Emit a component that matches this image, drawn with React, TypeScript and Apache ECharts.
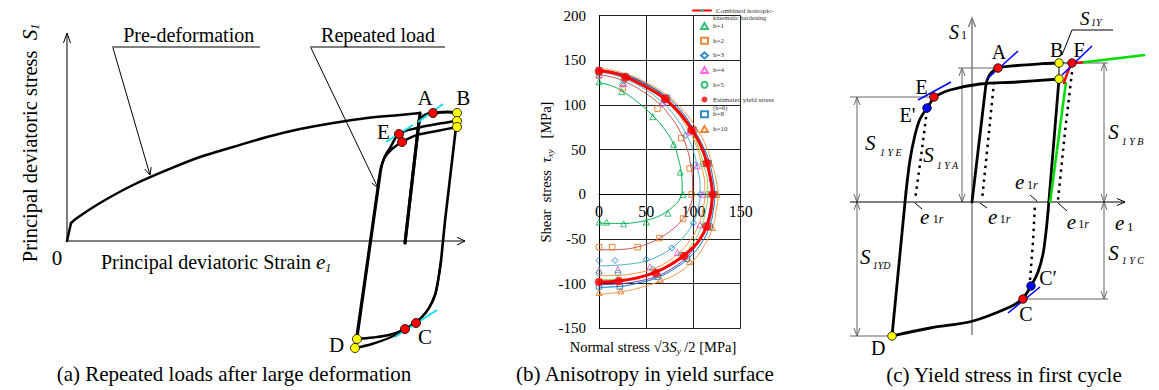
import React, { useEffect, useRef } from 'react';
import * as echarts from 'echarts';

const SERIF = '"Liberation Serif", "Times New Roman", Times, serif';

// ================= Panel (b): yield surfaces (MPa) =================
const bXTicks = [0, 50, 100, 150];
const bYRange = [-150, 200];

const markH1 = [[0,126],[24,115],[57,87],[79,56],[86,25],[89,0],[73,-21],[50,-31],[26,-33],[8,-31],[0,-31]];
const markH2 = [[0,133],[25,119],[62,96],[87,63],[96,29],[98,0],[89,-27],[64,-49],[41,-59],[14,-59],[0,-59]];
const markH3 = [[0,135],[25,123],[67,101],[92,66],[101,33],[107,0],[100,-32],[77,-60],[50,-73],[17,-74],[0,-74]];
const markH4 = [[0,134],[26,124],[68,103],[96,70],[104,32],[110,0],[107,-34],[83,-65],[54,-81],[20,-84],[0,-85]];
const markH5 = [[0,136],[26,127],[70,106],[97,71],[110,34],[115,0],[112,-35],[87,-68],[57,-84],[20,-88],[0,-88]];
const markH6 = [[0,138],[28,131],[70,107],[98,72],[114,35],[120,0],[114,-36],[90,-69],[60,-88],[21,-97],[0,-98]];
const markH8 = [[0,139],[28,132],[72,108],[100,72],[116,35],[122,0],[117,-36],[93,-72],[62,-92],[22,-103],[0,-103]];
const markH10 = [[0,140],[28,133],[72,109],[102,73],[117,35],[125,0],[120,-37],[96,-75],[65,-95],[23,-108],[0,-110]];

const fitH1 = [[0,125],[12,122],[24,116],[40,104],[57,88],[70,72],[79,56],[84,40],[87,24],[88,8],[86,-4],[80,-12],[72,-19],[62,-25],[50,-29],[38,-31.5],[26,-32.5],[12,-32.5],[0,-32]];
const fitH2 = [[0,134],[15,131],[30,125],[45,116],[62,103],[75,88],[86,70],[93,52],[97,33],[99,15],[99,0],[96,-14],[89,-27],[79,-38],[64,-49],[52,-55],[40,-59],[25,-61.5],[12,-62],[0,-62]];
const fitH3 = [[0,137],[15,134],[30,128],[45,120],[67,103],[80,88],[92,68],[100,48],[104,30],[107,10],[107,0],[105,-15],[100,-31],[90,-47],[77,-60],[63,-69],[48,-75],[32,-78],[15,-79.5],[0,-80]];
const fitH4 = [[0,137],[20,134],[40,127],[60,114],[78,97],[92,77],[103,54],[109,30],[112,8],[112,0],[110,-17],[105,-35],[96,-52],[84,-66],[70,-77],[55,-84],[40,-88],[22,-90.5],[0,-91]];
const fitH5 = [[0,138],[20,135],[40,128],[60,116],[78,99],[93,79],[104,56],[111,32],[115,10],[115,0],[113,-18],[108,-37],[99,-55],[86,-70],[72,-81],[57,-88],[40,-93],[22,-95],[0,-95.5]];
const fitH6 = [[0,139],[20,136],[40,129],[60,117],[78,101],[94,81],[106,58],[114,34],[118,12],[119,0],[117,-18],[112,-38],[103,-57],[91,-72],[77,-83],[60,-92],[42,-97],[22,-100],[0,-101]];
const fitH8 = [[0,140],[28,133],[50,123],[72,109],[88,92],[100,73],[110,54],[117,35],[121,15],[122.5,0],[121,-18],[117,-36],[108,-55],[95,-71],[80,-83],[62,-93],[42,-99],[22,-103],[0,-104]];
const fitH10 = [[0,142],[28,135],[50,125],[72,111],[90,93],[103,74],[113,55],[119,36],[124,16],[126,0],[124,-18],[120,-38],[111,-58],[98,-76],[82,-89],[65,-97],[45,-104],[24,-109],[0,-112]];
const modelCurve = [[0,138.5],[15,136],[28,131.5],[45,123],[60,114],[72,105],[86,90],[98,73],[108,54],[114,36],[118,18],[120,2],[119,-15],[115,-33],[107,-50],[96,-63],[88,-70],[75,-79],[60,-87],[42,-93],[21,-97],[0,-98]];

const MODEL_NAME = 'Combined isotropic-kinematic hardening';
const EST_NAME = 'Estimated yield stress (h=6)';
const markerLegend = ['h=1', 'h=2', 'h=3', 'h=4', 'h=5', EST_NAME, 'h=8', 'h=10'];

// ================= Panel (a): schematic (arbitrary strain / stress units) =================
const aPreElastic = [[0,0],[4,18]];
const aPreCurve = [[4,18],[10,23],[33,38],[66,56],[100,71],[133,84],[166,94],[200,104],[233,112],[266,118],[300,123],[333,126],[353,128]];
const aUnload0 = [[353,128],[338,-2]];
const aReload0a = [[338,-2],[352,120]];
const aReload0b = [[352,120],[356,125],[362,127.5],[366,128],[380,129],[390,128]];
const aUnload1a = [[390,128],[389,114],[378,20],[374,-20]];
const aUnload1b = [[374,-20],[371,-40],[368,-54],[362,-67],[354,-77],[345,-84],[336,-89],[322,-94],[306,-96.5],[290,-98]];
const aUnload2b = [[374,-20],[371,-40],[368,-54],[362,-67],[354,-77],[345,-84],[336,-90],[322,-97],[305,-103],[288,-107]];
const aReload1a = [[290,-98],[313,65]];
const aReload1b = [[313,65],[315,76],[318,85],[323,93],[332,107],[350,113],[370,117],[390,120]];
const aReload2a = [[288,-107],[312,62]];
const aReload2b = [[312,62],[314,74],[318,84],[325,92],[335,99],[350,106],[370,110],[390,114]];
const aYellow = [[390,128],[390,120],[390,114],[290,-98],[288,-107]];
const aRed = [[366,128],[332,107],[335,99],[349,-82],[338,-88]];
const aCyan = [[[319,99],[346,116]], [[351,119],[376,137]], [[328,-96],[370,-69]]];
const aAxes = [[[0,0],[398,0]], [[390,3.7],[398,0],[390,-4]], [[0,0],[0,208]], [[-3.5,198],[0,208],[3.5,198]]];
const aLeaders = [
  [[45,194],[193,194]], [[46,193],[83,66]], [[77.7,72],[83,66],[84.2,73.9]],
  [[243,194],[378,194]], [[244,193],[311,53]], [[304.8,58.1],[311,53],[310.9,61]],
];

// ================= Panel (c): schematic =================
const cLoadA = [[0,0],[14,118]];
const cLoadB = [[14,118],[16,124],[19,129],[26,134],[45,136.5],[70,138.3],[87,139]];
const cUnloadA = [[87,123],[76,-10]];
const cUnloadB = [[76,-10],[74,-30],[71,-52],[66,-70],[59,-84],[51,-97]];
const cBottom = [[51,-97],[38,-105],[1,-119],[-42,-126],[-80,-134]];
const cLeftA = [[-80,-134],[-66,10]];
const cLeftB = [[-66,10],[-62,42],[-57,67],[-52,83],[-45,94],[-38,105]];
const cTopE = [[-38,105],[-22,112],[8,118],[45,120],[87,123]];
const cRed = [[92,119],[95,128],[98,135],[101,139],[110,139.5]];
const cGreen = [[[110,139.5],[173,147]], [[78,-1],[94,120]]];
const cThin = [[[87,139],[100,139]], [[87,139],[87,123]], [[90,147],[100,172],[141,172]],
  [[-57,-1],[-50,-7]], [[8,-1],[15,-6]], [[86,-1],[95,-9]], [[58,7],[65,1]]];
const cDotted = [[[-45,92],[-51,45],[-57,2]], [[22,120],[16,60],[10,2]], [[58,-78],[61,-40],[63,-2]], [[100,130],[93,70],[86,2]]];
const cTangent = [[[15,123],[46,151]], [[-54,102],[-21,120]], [[90,127],[120,156]], [[36,-111],[68,-85]]];
const cDims = [
  [[-115,105],[-115,-134]], [[-122,105],[-38,105]], [[-122,-134],[-80,-134]],
  [[-10,134],[-10,0]], [[-14,134],[26,134]],
  [[132,139],[132,-97]], [[100,139],[136,139]], [[55,-97],[136,-97]],
  [[-118,97],[-115,105],[-112,97]], [[-118,8],[-115,0],[-112,8]], [[-118,-8],[-115,0],[-112,-8]], [[-118,-126],[-115,-134],[-112,-126]],
  [[-13,126],[-10,134],[-7,126]], [[-13,8],[-10,0],[-7,8]],
  [[129,131],[132,139],[135,131]], [[129,8],[132,0],[135,8]], [[129,-8],[132,0],[135,-8]], [[129,-89],[132,-97],[135,-89]],
];
const cYAxis = [[[0,-133],[0,184]], [[-3.5,175],[0,184],[3.5,175]]];
const cXAxis = [[[-122,0],[153,0]], [[145,3.5],[153,0],[145,-3.5]]];
const cYellow = [[87,139],[87,123],[-80,-134]];
const cRedDots = [[26,134],[100,139],[-38,105],[51,-97]];
const cBlue = [[-45,94],[59,-84]];

// ---------- helpers ----------
const curve = (gi: number, data: any, color: string, width: number, extra: any = {}) => ({
  type: 'line', xAxisIndex: gi, yAxisIndex: gi, data, symbol: 'none', showSymbol: false,
  lineStyle: { color, width, cap: 'round', join: 'round' }, clip: false, silent: true, z: 3, ...extra,
});
const segs = (gi: number, list: any[], color: string, width: number, extra: any = {}) => ({
  type: 'lines', coordinateSystem: 'cartesian2d', xAxisIndex: gi, yAxisIndex: gi, polyline: true,
  data: list.map((c) => ({ coords: c })), lineStyle: { color, width, opacity: 1, curveness: 0, ...(extra.ls || {}) },
  silent: true, z: extra.z || 2,
});
const dots = (gi: number, data: any, color: string, size: number, z = 6) => ({
  type: 'scatter', xAxisIndex: gi, yAxisIndex: gi, data, symbolSize: size, clip: false, silent: true, z,
  itemStyle: { color, borderColor: '#000', borderWidth: 0.8, opacity: 1 },
});
const T = (x: number, y: number, text: string, size: number, o: any = {}) => ({
  type: 'text', x, y, silent: true, z: 100, rotation: o.rotation || 0,
  style: {
    text, font: `${o.italic ? 'italic ' : ''}${size}px ${SERIF}`, fill: o.fill || '#000',
    align: o.align || 'center', textAlign: o.align || 'center', verticalAlign: 'middle', textVerticalAlign: 'middle',
  },
});
const R = (x: number, y: number, text: string, rich: any, o: any = {}) => ({
  type: 'text', x, y, silent: true, z: 100, rotation: o.rotation || 0,
  style: { text, rich, fill: '#000', align: o.align || 'left', textAlign: o.align || 'left', verticalAlign: 'middle', textVerticalAlign: 'middle' },
});
const sub1r = { u: { fontSize: 12, fontFamily: SERIF }, i: { fontSize: 12, fontFamily: SERIF, fontStyle: 'italic' } };

const hollow = (name: string, data: any, symbol: string, color: string, size = 5) => ({
  type: 'scatter', name, xAxisIndex: 1, yAxisIndex: 1, data, symbol, symbolSize: size, z: 4, silent: true,
  itemStyle: { color: 'rgba(255,255,255,0)', borderColor: color, borderWidth: 1 },
});
const fit = (data: any, color: string) => curve(1, data, color, 1, { smooth: true, z: 2, clip: true });
const straight = (gi: number, data: any, w = 2.8) => curve(gi, data, '#000', w);
const bend = (gi: number, data: any, w = 2.8) => curve(gi, data, '#000', w, { smooth: 0.35 });

// grid (b) geometry: the x axis sits on the zero line of the stress axis
const B_TOP = 15.7, B_H = 312.7;
const zeroOffset = -B_H * (0 - bYRange[0]) / (bYRange[1] - bYRange[0]);

export default function App() {
  const ref = useRef<HTMLDivElement>(null);
  useEffect(() => {
    const chart = echarts.init(ref.current!, undefined, { renderer: 'svg' });
    const legendText = { fontFamily: SERIF, fontSize: 7, color: '#333', lineHeight: 8 };
    const option: any = {
      animation: false,
      backgroundColor: '#fff',
      grid: [
        { left: 0, top: 0, width: 480, height: 390, outerBoundsMode: 'none', containLabel: false },
        { left: 599, top: B_TOP, width: 141.7, height: B_H, outerBoundsMode: 'none', containLabel: false },
        { left: 800, top: 0, width: 359, height: 390, outerBoundsMode: 'none', containLabel: false },
      ],
      xAxis: [
        { gridIndex: 0, type: 'value', min: -67, max: 413, show: false },
        {
          gridIndex: 1, type: 'value', min: bXTicks[0], max: bXTicks[bXTicks.length - 1], interval: 50,
          position: 'bottom', offset: zeroOffset,
          axisLine: { onZero: false, lineStyle: { color: '#000', width: 1 } }, axisTick: { show: false },
          axisLabel: { color: '#000', fontFamily: SERIF, fontSize: 16, margin: 9 },
          splitLine: { show: true, lineStyle: { color: '#222', width: 1 } },
        },
        { gridIndex: 2, type: 'value', min: -172, max: 187, show: false },
      ],
      yAxis: [
        { gridIndex: 0, type: 'value', min: -149, max: 241, show: false },
        {
          gridIndex: 1, type: 'value', min: bYRange[0], max: bYRange[1], interval: 50,
          axisLine: { show: true, onZero: false, lineStyle: { color: '#000', width: 1 } }, axisTick: { show: false },
          axisLabel: { color: '#000', fontFamily: SERIF, fontSize: 15, margin: 13 },
          splitLine: { show: true, lineStyle: { color: '#222', width: 1 } },
          name: '{a|Shear  stress  }{t|τ}{s|xy}{a|   [MPa]}', nameLocation: 'middle', nameGap: 42, nameRotate: 90,
          nameTextStyle: { rich: {
            a: { fontFamily: SERIF, fontSize: 14.5, color: '#000' },
            t: { fontFamily: SERIF, fontSize: 15, fontStyle: 'italic', color: '#000' },
            s: { fontFamily: SERIF, fontSize: 9, fontStyle: 'italic', color: '#000', padding: [8, 0, 0, 0] },
          } },
        },
        { gridIndex: 2, type: 'value', min: -188, max: 202, show: false },
      ],
      legend: [
        {
          orient: 'vertical', left: 692, top: 6.5, padding: 0, itemWidth: 18, itemHeight: 4,
          selectedMode: false, textStyle: legendText, data: [MODEL_NAME],
          formatter: () => 'Combined isotropic-',
        },
        {
          orient: 'vertical', left: 700, top: 22, padding: 0, itemWidth: 7, itemHeight: 6, itemGap: 6.7,
          selectedMode: false, textStyle: legendText, data: markerLegend,
          formatter: (n: string) => (n === EST_NAME ? 'Estimated yield stress' : n),
        },
      ],
      series: [
        // ----- panel (b) fitted curves
        fit(fitH1, '#00b050'), fit(fitH2, '#c0504d'), fit(fitH3, '#4bacc6'), fit(fitH4, '#f79646'),
        fit(fitH5, '#92d050'), fit(fitH6, '#7030a0'), fit(fitH8, '#0070c0'), fit(fitH10, '#f79646'),
        hollow('h=1', markH1, 'triangle', '#00b050', 6),
        hollow('h=2', markH2, 'rect', '#e46c0a', 5.5),
        hollow('h=3', markH3, 'diamond', '#0070c0', 6),
        hollow('h=4', markH4, 'triangle', '#ff44dd', 6),
        hollow('h=5', markH5, 'circle', '#00b050', 5.5),
        curve(1, modelCurve, '#ff0000', 3, { name: MODEL_NAME, smooth: true, z: 5, clip: true }),
        { type: 'scatter', name: EST_NAME, xAxisIndex: 1, yAxisIndex: 1, data: markH6, symbolSize: 8.5, z: 6, silent: true,
          itemStyle: { color: '#ff0000' } },
        hollow('h=8', markH8, 'rect', '#0070c0', 5.5),
        hollow('h=10', markH10, 'triangle', '#e46c0a', 6),

        // ----- panel (a)
        segs(0, aAxes, '#000', 1),
        segs(0, aLeaders, '#000', 1),
        straight(0, aPreElastic, 2.5),
        curve(0, aPreCurve, '#000', 2.5, { smooth: 0.35 }),
        straight(0, aUnload0, 3),
        straight(0, aReload0a, 3), bend(0, aReload0b, 2.8),
        straight(0, aUnload1a, 2.6), bend(0, aUnload1b, 2.4), bend(0, aUnload2b, 2.4),
        straight(0, aReload1a, 2.6), bend(0, aReload1b, 2.4),
        straight(0, aReload2a, 2.6), bend(0, aReload2b, 2.4),
        segs(0, aCyan, '#11e0f0', 2, { z: 4 }),
        dots(0, aYellow, '#ffff00', 9),
        dots(0, aRed, '#ff0000', 9),

        // ----- panel (c)
        segs(2, cDims, '#666', 1),
        segs(2, cYAxis, '#808080', 1.5),
        segs(2, cXAxis, '#000', 1),
        segs(2, cThin, '#000', 1),
        segs(2, cDotted, '#000', 2.5, { ls: { type: [2.5, 4.5] } }),
        segs(2, cGreen, '#00dd00', 2.5, { z: 4 }),
        straight(2, cLoadA), bend(2, cLoadB),
        straight(2, cUnloadA), bend(2, cUnloadB),
        bend(2, cBottom),
        straight(2, cLeftA), bend(2, cLeftB),
        bend(2, cTopE),
        curve(2, cRed, '#ff0000', 2.5, { smooth: 0.35, z: 4 }),
        segs(2, cTangent, '#0000ff', 1.6, { z: 5 }),
        dots(2, cYellow, '#ffff00', 8.5),
        dots(2, cRedDots, '#ff0000', 8.5),
        dots(2, cBlue, '#0000ff', 8.5),
      ],
      graphic: { elements: [
        // panel (a)
        R(30, 143, '{a|Principal deviatoric stress  }{s|S}{b|1}', {
          a: { fontSize: 20.5, fontFamily: SERIF },
          s: { fontSize: 21, fontFamily: SERIF, fontStyle: 'italic' },
          b: { fontSize: 12, fontFamily: SERIF, fontStyle: 'italic', padding: [10, 0, 0, 0] },
        }, { rotation: Math.PI / 2, align: 'center' }),
        T(57, 258, '0', 21),
        R(101, 262, '{a|Principal deviatoric Strain }{s|e}{b|1}', {
          a: { fontSize: 20, fontFamily: SERIF },
          s: { fontSize: 21, fontFamily: SERIF, fontStyle: 'italic' },
          b: { fontSize: 12, fontFamily: SERIF, fontStyle: 'italic', padding: [12, 0, 0, 0] },
        }),
        T(188.7, 35, 'Pre-deformation', 20),
        T(378, 35, 'Repeated load', 20),
        T(425, 98.3, 'A', 21), T(463.3, 98.3, 'B', 21), T(383.3, 131.7, 'E', 21),
        T(425, 336.7, 'C', 21), T(336.7, 345, 'D', 21),
        T(234, 374, '(a) Repeated loads after large deformation', 21),
        // panel (b)
        T(713, 17.5, 'kinematic hardening', 6.5, { align: 'left', fill: '#333' }),
        T(713, 107, '(h=6)', 6.5, { align: 'left', fill: '#333' }),
        R(653, 347, '{a|Normal stress }{r|√3}{s|S}{b|y}{a| /2 [MPa]}', {
          a: { fontFamily: SERIF, fontSize: 14.5 },
          r: { fontFamily: SERIF, fontSize: 15 },
          s: { fontFamily: SERIF, fontSize: 15, fontStyle: 'italic' },
          b: { fontFamily: SERIF, fontSize: 9, fontStyle: 'italic', padding: [8, 0, 0, 0] },
        }, { align: 'center' }),
        T(645, 374, '(b) Anisotropy in yield surface', 21),
        // panel (c)
        T(949, 31.7, 'S', 20, { italic: true, align: 'left' }), T(961, 35, '1', 12, { align: 'left' }),
        T(1115, 223, 'e', 21, { italic: true, align: 'left' }), T(1127, 226, '1', 13, { align: 'left' }),
        T(1080, 18.3, 'S', 19, { italic: true, align: 'left' }), T(1091, 22, '1Y', 10, { italic: true, align: 'left' }),
        T(865, 143.3, 'S', 21, { italic: true, align: 'left' }), T(880, 152, '1 Y E', 10, { italic: true, align: 'left' }),
        T(923.3, 155, 'S', 21, { italic: true, align: 'left' }), T(936.7, 165, '1 Y A', 10, { italic: true, align: 'left' }),
        T(860, 256.7, 'S', 21, { italic: true, align: 'left' }), T(872.7, 265, '1YD', 10, { italic: true, align: 'left' }),
        T(1108.3, 131.7, 'S', 21, { italic: true, align: 'left' }), T(1121.7, 141.7, '1 Y B', 10, { italic: true, align: 'left' }),
        T(1108.3, 253.3, 'S', 21, { italic: true, align: 'left' }), T(1121.7, 260, '1 Y C', 10, { italic: true, align: 'left' }),
        T(920, 216.7, 'e', 21, { italic: true, align: 'left' }), R(932.7, 219.3, '{u|1}{i|r}', sub1r),
        T(988, 216.7, 'e', 21, { italic: true, align: 'left' }), R(999.7, 219.3, '{u|1}{i|r}', sub1r),
        T(1066.7, 221.7, 'e', 21, { italic: true, align: 'left' }), R(1078.3, 224.3, '{u|1}{i|r}', sub1r),
        T(1015, 181.7, 'e', 21, { italic: true, align: 'left' }), R(1027, 184.5, '{u|1}{i|r}', sub1r),
        T(999, 51.7, 'A', 20), T(1056.7, 50, 'B', 20), T(1079, 50, 'F', 20), T(921.7, 86.7, 'E', 20),
        T(907.5, 115, "E'", 20), T(1048, 278.3, 'C′', 20), T(1026, 314.3, 'C', 20), T(878.3, 348.3, 'D', 20),
        T(1004, 375, '(c) Yield stress in first cycle', 21),
      ] },
    };
    chart.setOption(option);
    return () => chart.dispose();
  }, []);
  return <div ref={ref} style={{ position: 'fixed', left: 0, top: 0, width: 1159, height: 390 }} />;
}
